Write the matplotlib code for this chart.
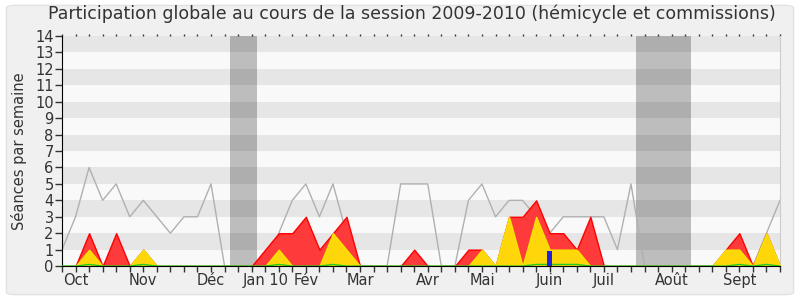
import numpy as np
import matplotlib
matplotlib.use('Agg')
import matplotlib.pyplot as plt
from matplotlib.patches import FancyBboxPatch

# -----------------------------------------------------------------------------
# Data (one value per week, session 2009-2010)
# -----------------------------------------------------------------------------
semaines = np.arange(54)

moyenne = [1, 3, 6, 4, 5, 3, 4, 3, 2, 3, 3, 5, 0, 0, 0, 0, 2, 4, 5, 3,
           5, 2, 0, 0, 0, 5, 5, 5, 0, 0, 4, 5, 3, 4, 4, 3, 2, 3, 3, 3,
           3, 1, 5, 0, 0, 0, 0, 0, 0, 0, 0, 0, 2, 4]

total = [0, 0, 2, 0, 2, 0, 1, 0, 0, 0, 0, 0, 0, 0, 0, 1, 2, 2, 3, 1,
         2, 3, 0, 0, 0, 0, 1, 0, 0, 0, 1, 1, 0, 3, 3, 4, 2, 2, 1, 3,
         0, 0, 0, 0, 0, 0, 0, 0, 0, 1, 2, 0, 2, 0]

hemicycle = [0, 0, 1, 0, 0, 0, 1, 0, 0, 0, 0, 0, 0, 0, 0, 0, 1, 0, 0, 0,
             2, 1, 0, 0, 0, 0, 0, 0, 0, 0, 0, 1, 0, 3, 0, 3, 1, 1, 1, 0,
             0, 0, 0, 0, 0, 0, 0, 0, 0, 1, 1, 0, 2, 0]

interventions = [0, 0, 0.1, 0, 0, 0, 0.1, 0, 0, 0, 0, 0, 0, 0, 0, 0, 0.1, 0, 0, 0,
                 0.1, 0, 0, 0, 0, 0, 0, 0, 0, 0, 0, 0, 0, 0, 0, 0.1, 0.1, 0.1, 0.1, 0,
                 0, 0, 0, 0, 0, 0, 0, 0, 0, 0, 0.1, 0, 0.1, 0]

questions_sem = [36]
questions_val = [0.9]

vacances = [(12.4, 14.4), (42.4, 46.4)]

mois_pos = [1, 6, 11, 15, 18, 22, 27, 31, 36, 40, 45, 50]
mois_lab = ['Oct', 'Nov', 'Déc', 'Jan 10', 'Fév', 'Mar', 'Avr', 'Mai',
            'Juin', 'Juil', 'Août', 'Sept']

# -----------------------------------------------------------------------------
# Plot
# -----------------------------------------------------------------------------
fig = plt.figure(figsize=(8, 3), dpi=100)
fig.patch.set_facecolor('white')
fig.patches.append(FancyBboxPatch((0.008, 0.018), 0.984, 0.964,
                                  boxstyle='round,pad=0,rounding_size=0.01',
                                  transform=fig.transFigure,
                                  facecolor='#f0f0f0', edgecolor='#e2e2e2',
                                  lw=1, zorder=-10))

ax = fig.add_axes([0.0775, 0.113, 0.8975, 0.767])
ax.set_facecolor('#f9f9f9')

for a, b in vacances:
    ax.axvspan(a, b, color='#bdbdbd', lw=0, zorder=0.5)
for k in range(1, 14, 2):
    ax.axhspan(k, k + 1, color='black', alpha=0.075, lw=0, zorder=0.6)

ax.plot(semaines, moyenne, color='#b0b0b0', lw=1, zorder=1)

ax.fill_between(semaines, 0, total, facecolor='#ff3a3a', edgecolor='#ff0000',
                lw=1, zorder=2)
ax.fill_between(semaines, 0, hemicycle, facecolor='#ffd60a', edgecolor='#f5e400',
                lw=1, zorder=3)
ax.plot(semaines, interventions, color='#22cc22', lw=1, zorder=4)
ax.bar(questions_sem, questions_val, width=0.36, color='#2222dd', zorder=5)

ax.set_xlim(0, 53)
ax.set_ylim(0, 14)
ax.set_yticks(range(15))
ax.set_xticks(semaines)
labels = [''] * len(semaines)
for p, l in zip(mois_pos, mois_lab):
    labels[p] = l
ax.set_xticklabels(labels)

ax.tick_params(axis='y', length=5, width=1, labelsize=10.5, colors='#333333',
               pad=1)
ax.tick_params(axis='x', length=4, width=1, labelsize=10.5, colors='#333333',
               pad=1, top=True)
for t in ax.xaxis.get_ticklines():
    t.set_color('black')
for t in ax.yaxis.get_ticklines():
    t.set_color('black')
for t in ax.xaxis.get_ticklines()[1::2]:
    t.set_markersize(1.5)
    t.set_color('#666666')

ax.spines['top'].set_visible(False)
ax.spines['right'].set_color('#cccccc')
ax.spines['left'].set_color('black')
ax.spines['bottom'].set_color('black')
ax.spines['bottom'].set_zorder(6)

ax.set_ylabel('Séances par semaine', fontsize=10.5, color='#333333', labelpad=6)
fig.text(0.515, 0.955, 'Participation globale au cours de la session 2009-2010 '
         '(hémicycle et commissions)', ha='center', va='center',
         fontsize=12.5, color='#333333')

plt.savefig('out.png', dpi=100, facecolor=fig.get_facecolor())
